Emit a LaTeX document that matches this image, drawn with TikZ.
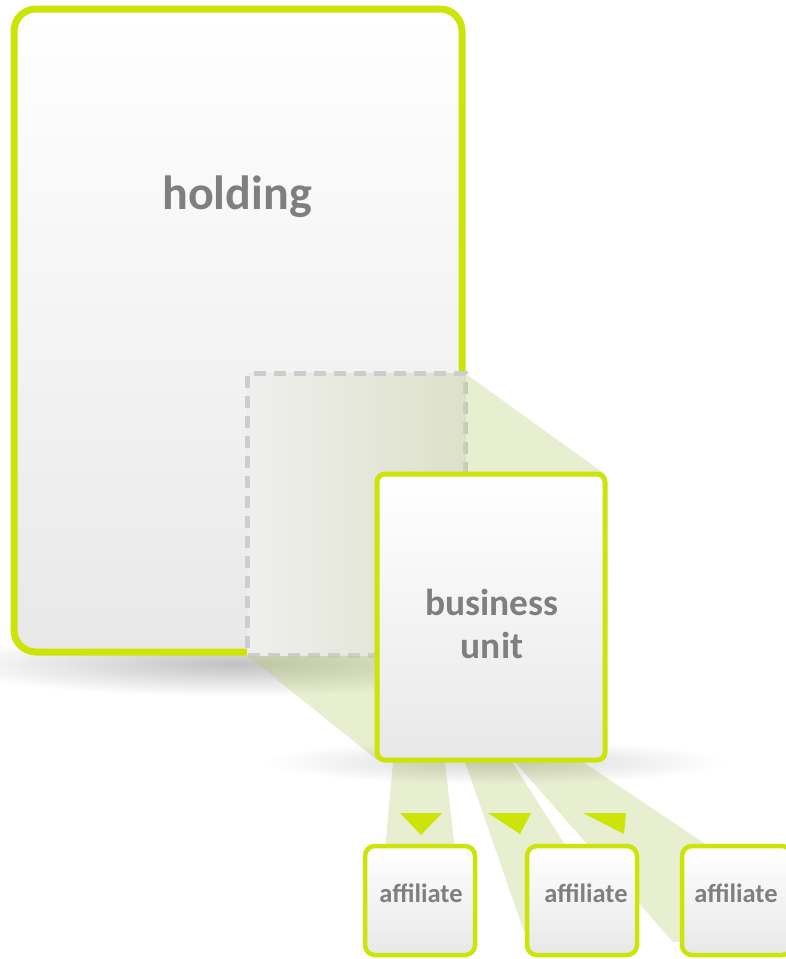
\documentclass[tikz,border=0pt]{standalone}
\usepackage{fontspec}
\setmainfont{Carlito}
\usetikzlibrary{fadings}

\definecolor{lime}{RGB}{204,228,8}
\definecolor{textgray}{RGB}{127,127,127}
\definecolor{beamgreen}{RGB}{180,200,100}
\definecolor{focusleft}{RGB}{239,239,239}
\definecolor{focusright}{RGB}{220,225,200}
\definecolor{dashgray}{RGB}{205,205,205}

\tikzfading[name=soft shadow, inner color=transparent!20, outer color=transparent!100]

\pgfdeclarelayer{back}
\pgfdeclarelayer{mid}
\pgfsetlayers{back,mid,main}

\tikzset{
  box/.style={draw=lime, rounded corners=8pt, top color=white, bottom color=black!9, outer sep=0pt, inner sep=0pt},
  holdingbox/.style={box, line width=7pt, rounded corners=22pt, minimum width=448pt, minimum height=643pt},
  unitbox/.style={box, line width=5pt, minimum width=228pt, minimum height=286pt},
  affbox/.style={box, line width=4.5pt, rounded corners=10pt, minimum width=110pt, minimum height=109pt},
  focusbox/.style={draw=dashgray, line width=5pt, dash pattern=on 12pt off 8pt, left color=focusleft, right color=focusright, outer sep=0pt, inner sep=0pt, minimum width=218pt, minimum height=282pt},
  title/.style={text=textgray, font=\bfseries\fontsize{48}{54}\selectfont},
  unittext/.style={text=textgray, align=center, font=\bfseries\fontsize{37.5}{43}\selectfont},
  afftext/.style={text=textgray, font=\bfseries\fontsize{26.5}{30}\selectfont},
  beam/.style={fill=beamgreen, fill opacity=0.3},
  arrowtip/.style={fill=lime},
  softshadow/.style={fill=black, fill opacity=0.3, path fading=soft shadow}
}

\begin{document}
\begin{tikzpicture}[x=1pt, y=-1pt]
\useasboundingbox (0,0) rectangle (786,959);
\clip (0,0) rectangle (786,959);

\begin{pgfonlayer}{back}
\fill[softshadow] (235,664) ellipse [x radius=290, y radius=32];
\node[holdingbox] (holding) at (238,330.5) {};
\node[title] (holdinglabel) at (237,197) {holding};
\end{pgfonlayer}

% business unit and affiliates
\node[unitbox] (unit) at (491,617) {};
\node[unittext] (unitlabel) at (492,624) {business\\unit};

\node[affbox] (aff1) at (420,900.5) {};
\node[affbox] (aff2) at (582,900.5) {};
\node[affbox] (aff3) at (737,900.5) {};
\node[afftext] (afflabel1) at (421,893) {affiliate};
\node[afftext] (afflabel2) at (586,893) {affiliate};
\node[afftext] (afflabel3) at (736,893) {affiliate};

\begin{pgfonlayer}{mid}
\node[focusbox] (focus) at (356.5,514.75) {};
\fill[beam, even odd rule] (focus.north west) -- (focus.north east) -- (unit.north east) -- (unit.south east) -- (unit.south west) -- (focus.south west) -- cycle
  (focus.south west) rectangle (focus.north east);
% beams down to the affiliates
\fill[beam] (393,762) -- (445,762) -- (455,850) -- (385,850) -- cycle;
\fill[beam] (465,762) -- (512,762) -- (626,940) -- (527,940) -- cycle;
\fill[beam] (515,762) -- (583,762) -- (710,847) -- (710,940) -- (673,942) -- cycle;
\fill[softshadow, fill opacity=0.2] (495,762) ellipse [x radius=230, y radius=22];
\end{pgfonlayer}

\fill[arrowtip] (400,813) -- (442,813) -- (421,835) -- cycle;
\fill[arrowtip] (488,813) -- (531,813) -- (520,834) -- cycle;
\fill[arrowtip] (583,813) -- (626,813) -- (624,834) -- cycle;
\end{tikzpicture}
\end{document}
